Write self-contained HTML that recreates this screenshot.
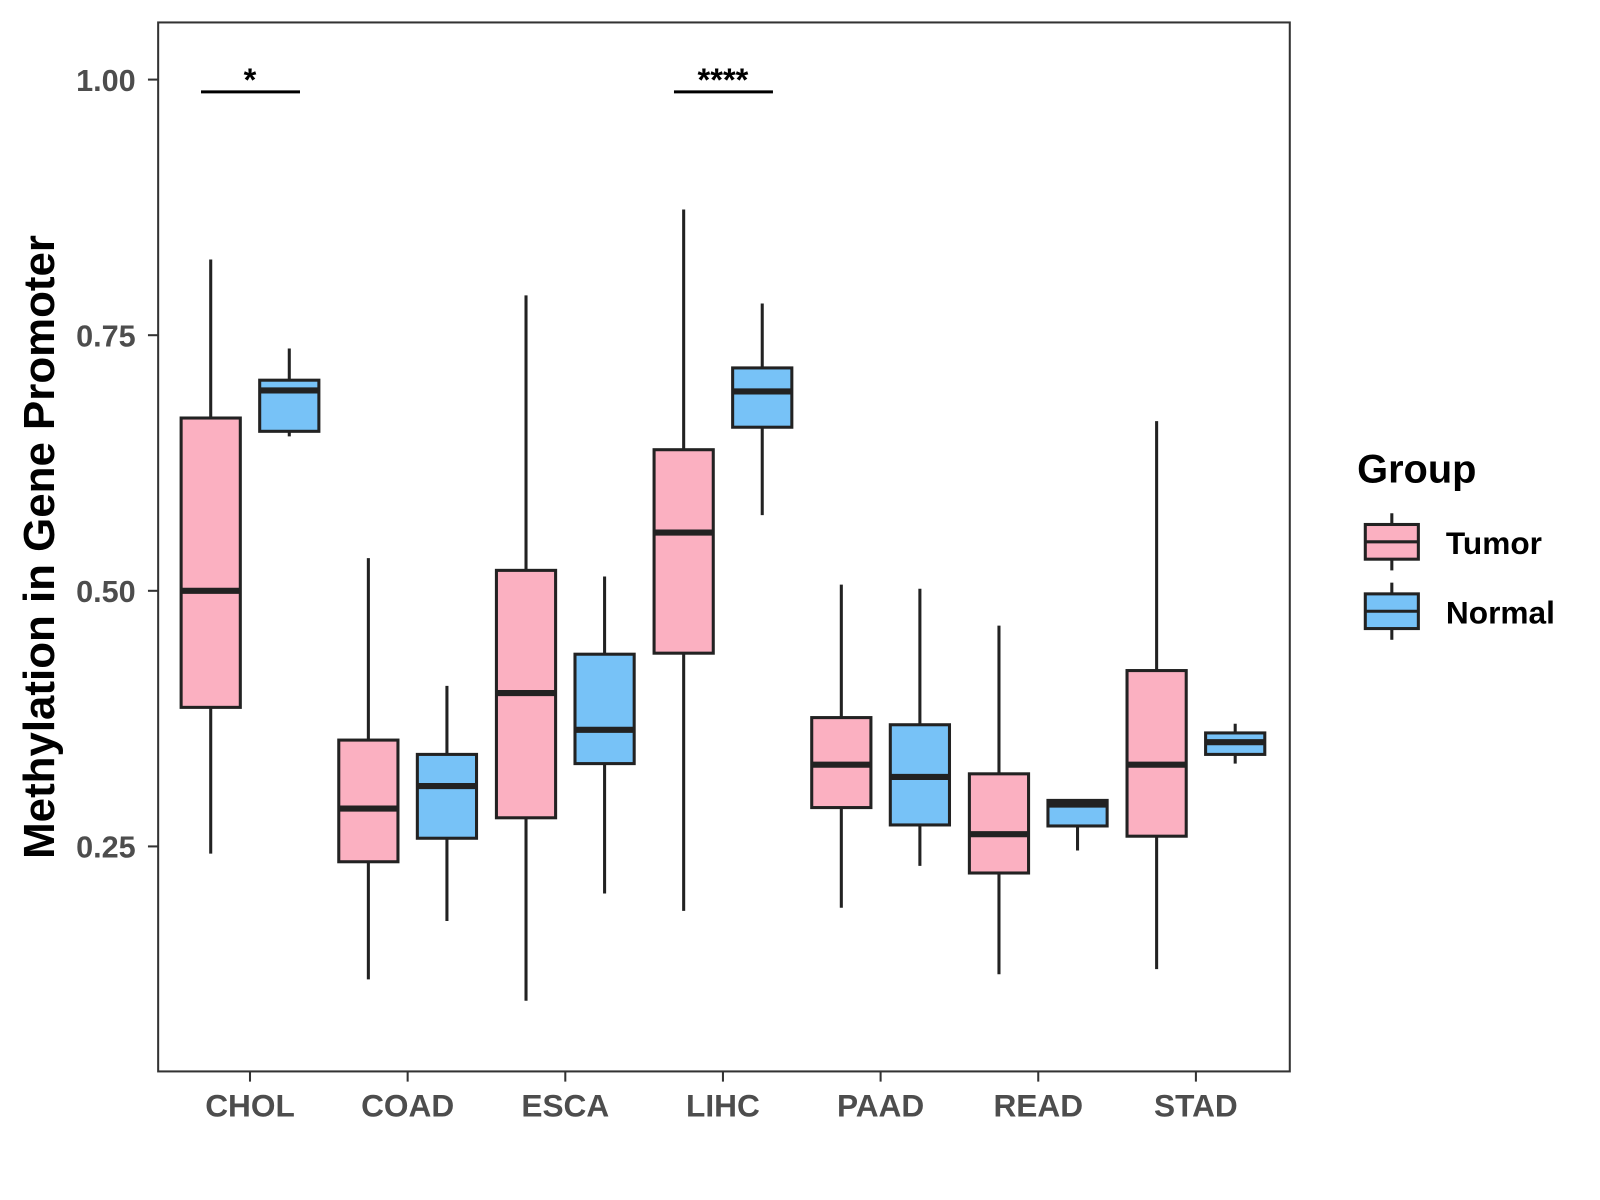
<!DOCTYPE html>
<html><head><meta charset="utf-8"><style>
html,body{margin:0;padding:0;background:#fff;}
svg{display:block;font-family:"Liberation Sans",Arial,sans-serif;}
</style></head><body>
<svg id="chart" width="1600" height="1200" viewBox="0 0 1600 1200">
<rect x="0" y="0" width="1600" height="1200" fill="#fff"/>
<g transform="scale(1.0204)">
<g id="marks"></g>
<rect x="155" y="22" width="1109" height="1028" fill="none" stroke="#333" stroke-width="2"/>
<g id="axes"></g>
<text x="53" y="536" transform="rotate(-90 53 536)" text-anchor="middle" font-size="43" font-weight="bold" fill="#000">Methylation in Gene Promoter</text>
<g>
<text x="1330" y="473" font-size="39" font-weight="bold" fill="#000">Group</text>
<g>
<line x1="1364" y1="503" x2="1364" y2="559" stroke="#222" stroke-width="3"/>
<rect x="1338" y="514" width="52" height="34" fill="#fbb0c1" stroke="#222" stroke-width="3"/>
<line x1="1338" y1="531" x2="1390" y2="531" stroke="#222" stroke-width="3"/>
<text x="1417" y="543" font-size="31" font-weight="bold" fill="#000">Tumor</text>
</g>
<g>
<line x1="1364" y1="571" x2="1364" y2="627" stroke="#222" stroke-width="3"/>
<rect x="1338" y="582" width="52" height="34" fill="#77c2f7" stroke="#222" stroke-width="3"/>
<line x1="1338" y1="599" x2="1390" y2="599" stroke="#222" stroke-width="3"/>
<text x="1417" y="611" font-size="31" font-weight="bold" fill="#000">Normal</text>
</g>
</g>
</g>
</svg>
<script>
const categories = ["CHOL","COAD","ESCA","LIHC","PAAD","READ","STAD"];
// [low, q1, median, q3, high]
const tumorStats = [
 [0.243,0.386,0.500,0.669,0.824],
 [0.120,0.235,0.287,0.354,0.532],
 [0.099,0.278,0.400,0.520,0.789],
 [0.187,0.439,0.557,0.638,0.873],
 [0.190,0.288,0.330,0.376,0.506],
 [0.125,0.224,0.262,0.321,0.466],
 [0.130,0.260,0.330,0.422,0.666]
];
const normalStats = [
 [0.651,0.656,0.696,0.706,0.737],
 [0.177,0.258,0.309,0.340,0.407],
 [0.204,0.331,0.364,0.438,0.514],
 [0.574,0.660,0.695,0.718,0.781],
 [0.231,0.271,0.318,0.369,0.502],
 [0.246,0.270,0.291,0.295,0.295],
 [0.331,0.340,0.352,0.361,0.370]
];
const yTicks = [0.25,0.50,0.75,1.00];
const yTickLabels = ["0.25","0.50","0.75","1.00"];
const sigCategories = ["CHOL","LIHC"];
const sigLabels = ["*","****"];
const sigLevel = 0.988;

const NS="http://www.w3.org/2000/svg";
function y(v){return 78+(1-v)*1002;}
function x(i){return 245+i*154.5;}
function mk(tag,attrs,parent){const e=document.createElementNS(NS,tag);for(const k in attrs)e.setAttribute(k,attrs[k]);parent.appendChild(e);return e;}
const marks=document.getElementById('marks'), axes=document.getElementById('axes');
const bw=58;
function drawBox(cx,s,fill,name){
  const g=mk('g',{},marks);
  
  
  mk('line',{x1:cx,x2:cx,y1:y(s[4]),y2:y(s[0]),stroke:'#222','stroke-width':3},g);
  mk('rect',{x:cx-bw/2,y:y(s[3]),width:bw,height:y(s[1])-y(s[3]),fill:fill,stroke:'#222','stroke-width':3},g);
  mk('line',{x1:cx-bw/2,x2:cx+bw/2,y1:y(s[2]),y2:y(s[2]),stroke:'#222','stroke-width':6},g);
}
categories.forEach((c,i)=>{
  drawBox(x(i)-38.5,tumorStats[i],'#fbb0c1','box-tumor-'+c.toLowerCase());
  drawBox(x(i)+38.5,normalStats[i],'#77c2f7','box-normal-'+c.toLowerCase());
  mk('line',{x1:x(i),x2:x(i),y1:1050,y2:1060,stroke:'#333','stroke-width':2},axes);
  const t=mk('text',{x:x(i),y:1094,'text-anchor':'middle','font-size':31,'font-weight':'bold',fill:'#4d4d4d'},axes);
  t.textContent=c;
  
  
});
yTicks.forEach((v,i)=>{
  mk('line',{x1:145,x2:155,y1:y(v),y2:y(v),stroke:'#333','stroke-width':2},axes);
  const t=mk('text',{x:133,y:y(v)+11,'text-anchor':'end','font-size':30,'font-weight':'bold',fill:'#4d4d4d'},axes);
  t.textContent=yTickLabels[i];
  
  
});
sigCategories.forEach((c,k)=>{
  const i=categories.indexOf(c);
  const g=mk('g',{},marks);
  
  
  mk('line',{x1:x(i)-48,x2:x(i)+49,y1:y(sigLevel),y2:y(sigLevel),stroke:'#000','stroke-width':3},g);
  const t=mk('text',{x:x(i),y:y(sigLevel)-1,'text-anchor':'middle','font-size':32,'font-weight':'bold',fill:'#000'},g);
  t.textContent=sigLabels[k];
});
</script>
</body></html>
